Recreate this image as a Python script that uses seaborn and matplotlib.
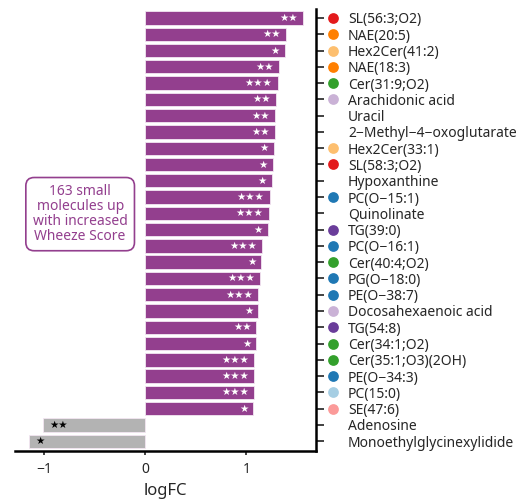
import matplotlib
matplotlib.use("Agg")
import matplotlib.pyplot as plt
from matplotlib.transforms import blended_transform_factory
import seaborn as sns
import pandas as pd

# Small molecules associated with wheeze score, ranked by log fold change
molecules = [
    "SL(56:3;O2)", "NAE(20:5)", "Hex2Cer(41:2)", "NAE(18:3)", "Cer(31:9;O2)",
    "Arachidonic acid", "Uracil", "2−Methyl−4−oxoglutarate", "Hex2Cer(33:1)",
    "SL(58:3;O2)", "Hypoxanthine", "PC(O−15:1)", "Quinolinate", "TG(39:0)",
    "PC(O−16:1)", "Cer(40:4;O2)", "PG(O−18:0)", "PE(O−38:7)",
    "Docosahexaenoic acid", "TG(54:8)", "Cer(34:1;O2)", "Cer(35:1;O3)(2OH)",
    "PE(O−34:3)", "PC(15:0)", "SE(47:6)", "Adenosine",
    "Monoethylglycinexylidide",
]
logfc = [
    1.56, 1.39, 1.38, 1.32, 1.31, 1.29, 1.28, 1.28, 1.27, 1.26, 1.25, 1.23,
    1.22, 1.21, 1.16, 1.15, 1.14, 1.12, 1.12, 1.10, 1.10, 1.08, 1.08, 1.08,
    1.07, -1.01, -1.15,
]
signif = [
    "**", "**", "*", "**", "***", "**", "**", "**", "*", "*", "*", "***",
    "***", "*", "***", "*", "***", "***", "*", "**", "*", "***", "***", "***",
    "*", "**", "*",
]
mol_class = [
    "SL", "NAE", "Hex2Cer", "NAE", "Cer", "FA", None, None, "Hex2Cer", "SL",
    None, "PC(O)", None, "TG", "PC(O)", "Cer", "PG", "PE", "FA", "TG", "Cer",
    "Cer", "PE", "PC", "SE", None, None,
]
class_colors = {
    "SL": "#e31a1c", "NAE": "#ff7f00", "Hex2Cer": "#fdbf6f", "Cer": "#33a02c",
    "FA": "#cab2d6", "TG": "#6a3d9a", "PC(O)": "#1f78b4", "PG": "#1f78b4",
    "PE": "#1f78b4", "PC": "#a6cee3", "SE": "#fb9a99",
}
up_color = "#933f8e"
down_color = "#b3b3b3"

df = pd.DataFrame({
    "molecule": molecules,
    "logFC": logfc,
    "direction": ["up" if v > 0 else "down" for v in logfc],
})

sns.set_style("white")
plt.rcParams["font.family"] = ["Noto Sans", "DejaVu Sans"]

fig = plt.figure(figsize=(5.16, 5.0), dpi=100)
ax = fig.add_axes([15 / 516, 49 / 500, 301 / 516, 442 / 500])

sns.barplot(
    data=df, x="logFC", y="molecule", hue="direction",
    palette={"up": up_color, "down": down_color}, saturation=1,
    dodge=False, width=0.82, edgecolor="#f3e6f2", linewidth=0.6,
    legend=False, ax=ax, orient="h",
)

ax.set_xlim(-1.29, 1.69)
ax.set_ylim(len(molecules) - 0.4, -0.55)

# Significance stars inside each bar
for i, (v, s) in enumerate(zip(logfc, signif)):
    stars = "★" * len(s)
    if v > 0:
        ax.text(v - 0.05, i, stars, ha="right", va="center", color="white",
                fontsize=7.5, family=["DejaVu Sans"])
    else:
        ax.text(v + 0.06, i, stars, ha="left", va="center", color="black",
                fontsize=7.5, family=["DejaVu Sans"])

# Class markers beside the molecule names
trans = blended_transform_factory(ax.transAxes, ax.transData)
for i, c in enumerate(mol_class):
    if c is not None:
        ax.scatter(1.057, i, s=60, color=class_colors[c], transform=trans,
                   clip_on=False, linewidths=0, zorder=5)

ax.yaxis.tick_right()
ax.yaxis.set_label_position("right")
ax.set_ylabel("")
ax.tick_params(axis="y", which="both", right=True, left=False, length=6,
               width=1.3, pad=17, labelsize=10, color="#333333")
ax.tick_params(axis="x", bottom=True, length=3, width=1.3, pad=5,
               labelsize=10, color="#333333")
ax.set_xticks([-1, 0, 1])
ax.set_xticklabels(["−1", "0", "1"])
ax.set_xlabel("logFC", fontsize=12, labelpad=4)

for side in ["left", "top"]:
    ax.spines[side].set_visible(False)
for side in ["right", "bottom"]:
    ax.spines[side].set_visible(True)
    ax.spines[side].set_color("black")
    ax.spines[side].set_linewidth(1.8)

ax.text(-0.645, 12.05, "163 small\nmolecules up\nwith increased\nWheeze Score",
        ha="center", va="center", color=up_color, fontsize=10,
        linespacing=0.98,
        bbox=dict(boxstyle="round,pad=0.5,rounding_size=0.6",
                  facecolor="white", edgecolor=up_color, linewidth=1.2))

fig.savefig("out.png", dpi=100)
